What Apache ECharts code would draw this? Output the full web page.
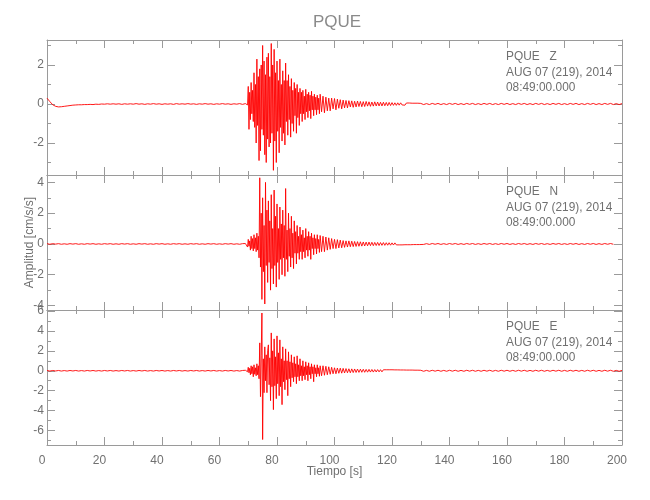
<!DOCTYPE html>
<html>
<head>
<meta charset="utf-8">
<script src="https://cdn.jsdelivr.net/npm/echarts@6/dist/echarts.min.js"></script>
<style>html,body{margin:0;padding:0;background:#fff}#c{width:650px;height:500px}</style>
</head>
<body>
<div id="c"></div>
<script>
// ---- data ----
const title = 'PQUE';
const components = ['Z', 'N', 'E'];
const headerLine2 = 'AUG 07 (219), 2014';
const headerLine3 = '08:49:00.000';
const xTicks = [0, 20, 40, 60, 80, 100, 120, 140, 160, 180, 200];

// pre-event, 1 s samples, t = 0..68
const zPre = [0.3,0.12,-0.04,-0.12,-0.15,-0.14,-0.12,-0.1,-0.08,-0.06,
  -0.05,-0.04,-0.04,-0.03,-0.03,-0.02,-0.03,-0.01,-0.02,0.0,
  -0.01,0.01,-0.01,0.01,-0.01,0.01,-0.02,0.01,-0.01,0.01,
  -0.01,0.02,-0.01,0.01,-0.02,0.01,-0.01,0.02,-0.01,0.01,
  -0.02,0.01,-0.01,0.01,-0.02,0.02,-0.01,0.01,-0.01,0.02,
  -0.01,0.01,-0.02,0.01,-0.01,0.02,-0.01,0.01,-0.02,0.01,
  -0.01,0.02,-0.01,0.01,-0.02,0.01,-0.01,0.02,-0.02];
const nPre = [0.02,-0.02,0.02,-0.01,0.02,-0.02,0.01,-0.02,0.02,-0.01,
  0.02,-0.02,0.01,-0.02,0.02,-0.01,0.02,-0.02,0.01,-0.02,
  0.02,-0.01,0.02,-0.02,0.01,-0.02,0.02,-0.01,0.02,-0.02,
  0.01,-0.02,0.02,-0.01,0.02,-0.02,0.01,-0.02,0.02,-0.01,
  0.02,-0.02,0.01,-0.02,0.02,-0.01,0.02,-0.02,0.01,-0.02,
  0.02,-0.01,0.02,-0.02,0.01,-0.02,0.02,-0.01,0.02,-0.02,
  0.01,-0.02,0.02,-0.01,0.02,-0.02,0.01,-0.02,0.02];
const ePre = [0.03,-0.03,0.03,-0.02,0.03,-0.03,0.02,-0.03,0.03,-0.02,
  0.03,-0.03,0.02,-0.03,0.03,-0.02,0.03,-0.03,0.02,-0.03,
  0.03,-0.02,0.03,-0.03,0.02,-0.03,0.03,-0.02,0.03,-0.03,
  0.02,-0.03,0.03,-0.02,0.03,-0.03,0.02,-0.03,0.03,-0.02,
  0.03,-0.03,0.02,-0.03,0.03,-0.02,0.03,-0.03,0.02,-0.03,
  0.03,-0.02,0.03,-0.03,0.02,-0.03,0.03,-0.02,0.03,-0.03,
  0.02,-0.03,0.03,-0.02,0.03,-0.03,0.02,-0.03,0.03];

// strong motion, 0.25 s samples, t = 69.00..94.75
const zStrong = [0.02,-0.03,0.03,-0.05,0.9,-1.3,0.6,-0.8,
  1.1,-0.5,0.7,-0.9,1.6,-1.2,1.0,-2.0,
  2.3,-1.1,1.4,-2.9,1.8,-2.4,2.0,-1.3,
  3.0,-1.6,2.2,-2.6,1.5,-3.0,2.4,-1.8,
  2.6,-2.2,1.4,-2.0,3.1,-1.5,2.0,-3.4,
  2.8,-1.9,1.6,-3.0,2.2,-1.4,1.2,-2.5,
  2.3,-1.2,1.0,-1.9,1.7,-1.5,1.2,-2.1,
  2.1,-0.9,1.2,-1.6,1.5,-0.8,0.9,-1.7,
  1.3,-1.0,0.7,-1.4,1.1,-0.6,0.8,-1.5,
  1.0,-0.7,0.6,-1.1,0.8,-0.5,0.6,-0.9,
  0.7,-0.5,0.4,-0.8,0.75,-0.4,0.5,-0.7,
  0.6,-0.35,0.45,-0.75,0.65,-0.3,0.4,-0.6,
  0.5,-0.3,0.35,-0.55,0.45,-0.3,0.3,-0.5];
const nStrong = [0.03,-0.05,0.1,-0.2,0.3,-0.15,0.2,-0.4,
  0.5,-0.3,0.35,-0.45,0.6,-0.3,0.4,-0.5,
  0.7,-0.4,0.5,-0.9,4.3,-1.5,2.0,-3.6,
  3.0,-1.8,1.2,-3.9,4.0,-1.4,2.2,-2.5,
  2.8,-1.2,1.5,-3.0,3.2,-1.6,1.0,-2.6,
  3.5,-1.4,1.8,-2.8,2.6,-1.2,1.0,-2.3,
  2.4,-1.0,1.3,-2.0,2.2,-0.9,1.2,-2.1,
  3.6,-1.0,0.9,-1.8,2.0,-0.8,1.0,-1.5,
  1.8,-0.9,0.7,-1.6,1.5,-0.6,0.8,-1.3,
  1.2,-0.6,0.5,-1.0,1.1,-0.5,0.6,-1.0,
  0.9,-0.5,0.4,-0.9,1.0,-0.4,0.5,-0.8,
  0.8,-0.4,0.5,-1.0,0.7,-0.3,0.4,-0.7,
  0.6,-0.3,0.35,-0.65,0.6,-0.3,0.3,-0.55];
const eStrong = [0.05,-0.05,0.1,-0.1,0.35,-0.2,0.25,-0.4,
  0.5,-0.3,0.4,-0.6,0.6,-0.35,0.3,-0.5,
  0.7,-0.4,0.5,-0.8,2.8,-2.6,1.5,5.8,
  -6.9,1.2,-2.2,2.4,-1.0,1.6,-2.2,2.0,
  2.6,-1.4,1.3,-3.0,3.8,-1.6,2.0,-3.9,
  3.2,-1.5,1.4,-2.8,3.5,-1.3,1.8,-2.5,
  3.1,-1.6,1.2,-3.4,2.4,-1.1,1.0,-1.9,
  2.2,-0.9,1.0,-2.5,1.9,-0.8,0.9,-1.6,
  1.6,-0.7,0.8,-1.1,1.4,-0.6,0.7,-1.3,
  1.5,-0.6,0.6,-1.0,1.2,-0.5,0.5,-1.0,
  1.0,-0.5,0.4,-0.9,0.9,-0.4,0.5,-1.0,
  0.8,-0.4,0.4,-0.8,0.7,-0.3,0.4,-1.1,
  0.6,-0.3,0.3,-0.6,0.6,-0.3,0.3,-0.55];

// coda, 0.5 s samples, t = 95.0..129.5
const zCoda = [0.5,-0.4,0.4,-0.45,0.35,-0.35,0.3,-0.35,0.3,-0.25,
  0.28,-0.3,0.25,-0.22,0.22,-0.25,0.2,-0.2,0.18,-0.2,
  0.17,-0.15,0.16,-0.17,0.14,-0.15,0.15,-0.13,0.13,-0.14,
  0.12,-0.13,0.13,-0.11,0.11,-0.12,0.1,-0.11,0.11,-0.1,
  0.1,-0.1,0.09,-0.1,0.09,-0.09,0.08,-0.09,0.08,-0.08,
  0.07,-0.07,0.06,-0.07,0.06,-0.06,0.06,-0.05,0.05,-0.06,
  0.05,-0.05,0.05,-0.05,0.04,-0.05,0.04,-0.04,0.04,-0.04];
const nCoda = [0.55,-0.5,0.5,-0.5,0.45,-0.4,0.4,-0.35,0.35,-0.3,
  0.3,-0.3,0.28,-0.26,0.25,-0.25,0.22,-0.22,0.2,-0.2,
  0.2,-0.18,0.18,-0.17,0.16,-0.16,0.15,-0.15,0.14,-0.14,
  0.13,-0.13,0.12,-0.12,0.12,-0.11,0.11,-0.11,0.1,-0.1,
  0.1,-0.1,0.09,-0.09,0.09,-0.09,0.08,-0.08,0.08,-0.08,
  0.07,-0.07,0.07,-0.06,0.06,-0.06,0.06,-0.06,0.05,-0.05,
  0.05,-0.05,0.05,-0.05,0.05,-0.04,0.04,-0.04,0.04,-0.04];
const eCoda = [0.5,-0.5,0.5,-0.45,0.45,-0.4,0.4,-0.35,0.35,-0.3,
  0.3,-0.3,0.28,-0.25,0.26,-0.24,0.24,-0.22,0.22,-0.2,
  0.2,-0.2,0.19,-0.18,0.18,-0.17,0.17,-0.16,0.16,-0.15,
  0.15,-0.15,0.14,-0.14,0.14,-0.13,0.13,-0.13,0.12,-0.12,
  0.12,-0.11,0.11,-0.11,0.1,-0.1,0.1,-0.1,0.1,-0.1,
  0.1,-0.09,0.09,-0.09,0.09,-0.08,0.08,-0.08,0.08,-0.08,
  0.07,-0.07,0.07,-0.07,0.07,-0.07,0.06,-0.06,0.06,-0.06];

// late noise, 1 s samples, t = 130..end
const zTail = [0.03,-0.03,0.02,-0.03,0.03,-0.02,0.03,-0.03,0.02,-0.03,
  0.03,-0.02,0.03,-0.03,0.02,-0.03,0.03,-0.02,0.03,-0.03,
  0.02,-0.03,0.03,-0.02,0.03,-0.03,0.02,-0.03,0.03,-0.02,
  0.03,-0.03,0.02,-0.03,0.03,-0.02,0.03,-0.03,0.02,-0.03,
  0.03,-0.02,0.03,-0.03,0.02,-0.03,0.03,-0.02,0.03,-0.03,
  0.02,-0.03,0.03,-0.02,0.03,-0.03,0.02,-0.03,0.03,-0.02,
  0.03,-0.03,0.02,-0.03,0.03,-0.02,0.03,-0.03,0.02,-0.03,0.02];
const nTail = [0.03,-0.03,0.02,-0.03,0.03,-0.02,0.03,-0.03,0.02,-0.03,
  0.03,-0.02,0.03,-0.03,0.02,-0.03,0.03,-0.02,0.03,-0.03,
  0.02,-0.03,0.03,-0.02,0.03,-0.03,0.02,-0.03,0.03,-0.02,
  0.03,-0.03,0.02,-0.03,0.03,-0.02,0.03,-0.03,0.02,-0.03,
  0.03,-0.02,0.03,-0.03,0.02,-0.03,0.03,-0.02,0.03,-0.03,
  0.02,-0.03,0.03,-0.02,0.03,-0.03,0.02,-0.03,0.03,-0.02,
  0.03,-0.03,0.02,-0.03,0.03,-0.02,0.03,-0.02];
const eTail = [0.05,-0.05,0.04,-0.05,0.05,-0.04,0.05,-0.05,0.04,-0.05,
  0.05,-0.04,0.05,-0.05,0.04,-0.05,0.05,-0.04,0.05,-0.05,
  0.04,-0.05,0.05,-0.04,0.05,-0.05,0.04,-0.05,0.05,-0.04,
  0.05,-0.05,0.04,-0.05,0.05,-0.04,0.05,-0.05,0.04,-0.05,
  0.05,-0.04,0.05,-0.05,0.04,-0.05,0.05,-0.04,0.05,-0.05,
  0.04,-0.05,0.05,-0.04,0.05,-0.05,0.04,-0.05,0.05,-0.04,
  0.05,-0.05,0.04,-0.05,0.05,-0.04,0.05,-0.05,0.04,-0.05,0.04];

// axis ranges and tick labels per panel
const yRanges = [[-3.64, 3.28], [-4.29, 4.48], [-7.45, 6.1]];
const yMajor = [[-2, 0, 2], [-4, -2, 0, 2, 4], [-6, -4, -2, 0, 2, 4, 6]];
const yMinor = [[-3, -1, 1, 3], [-3, -1, 1, 3], [-7, -5, -3, -1, 1, 3, 5]];

// ---- build ----
function buildSeries(pre, strong, coda, tail) {
  const out = [];
  pre.forEach((v, i) => out.push([i, v]));
  strong.forEach((v, i) => out.push([69 + 0.25 * i, v]));
  coda.forEach((v, i) => out.push([95 + 0.5 * i, v]));
  tail.forEach((v, i) => out.push([130 + i, v]));
  return out;
}
const traces = [
  buildSeries(zPre, zStrong, zCoda, zTail),
  buildSeries(nPre, nStrong, nCoda, nTail),
  buildSeries(ePre, eStrong, eCoda, eTail)
];

const FONT = "'Liberation Sans', Arial, sans-serif";
const AX = '#9a9a9a';
const TXT = '#707070';
const tops = [40, 175, 310];
const H = 135;

const grids = [], xAxes = [], yAxes = [], series = [], graphics = [];
for (let p = 0; p < 3; p++) {
  grids.push({ left: 47, right: 28, top: tops[p], height: H, containLabel: false });
  ['bottom', 'top'].forEach(pos => {
    const main = (p === 2 && pos === 'bottom');
    xAxes.push({
      gridIndex: p, type: 'value', min: 0, max: 200, interval: 20, position: pos,
      axisLine: { show: true, onZero: false, lineStyle: { color: AX, width: 1 } },
      axisTick: { show: true, inside: true, length: 8, lineStyle: { color: AX } },
      minorTick: { show: true, splitNumber: 2, length: 4, lineStyle: { color: AX } },
      splitLine: { show: false },
      axisLabel: {
        show: main, margin: 10, color: TXT, fontSize: 12, fontFamily: FONT,
        padding: [0, 10, 0, 0], customValues: xTicks
      },
      name: main ? 'Tiempo [s]' : '',
      nameLocation: 'middle', nameGap: 21, nameMoveOverlap: false,
      nameTextStyle: { color: TXT, fontSize: 12, fontFamily: FONT }
    });
  });
  ['left', 'right'].forEach(pos => {
    const main = (p === 1 && pos === 'left');
    yAxes.push({
      gridIndex: p, type: 'value', min: yRanges[p][0], max: yRanges[p][1], position: pos,
      axisLine: { show: true, onZero: false, lineStyle: { color: AX, width: 1 } },
      axisTick: { show: true, inside: true, length: 8, lineStyle: { color: AX }, customValues: yMajor[p] },
      splitLine: { show: false },
      axisLabel: {
        show: pos === 'left', margin: 3, color: TXT, fontSize: 12, fontFamily: FONT,
        customValues: yMajor[p]
      },
      name: main ? 'Amplitud [cm/s/s]' : '',
      nameLocation: 'middle', nameGap: 11, nameRotate: 90, nameMoveOverlap: false,
      nameTextStyle: { color: TXT, fontSize: 12, fontFamily: FONT }
    });
    yAxes.push({
      gridIndex: p, type: 'value', min: yRanges[p][0], max: yRanges[p][1], position: pos,
      axisLine: { show: false, onZero: false },
      axisTick: { show: true, inside: true, length: 4, lineStyle: { color: AX }, customValues: yMinor[p] },
      splitLine: { show: false },
      axisLabel: { show: false }
    });
  });
  series.push({
    type: 'line', xAxisIndex: 2 * p, yAxisIndex: 4 * p, data: traces[p],
    showSymbol: false, symbol: 'none', sampling: null, clip: true,
    lineStyle: { color: '#ff0000', width: 0.9 }, animation: false
  });
  [title + '   ' + components[p], headerLine2, headerLine3].forEach((t, k) => {
    graphics.push({
      type: 'text', x: 506, y: tops[p] + 17 + 15.5 * k, scaleX: 0.95,
      style: { text: t, fill: TXT, font: '12.5px ' + FONT, textVerticalAlign: 'middle' }
    });
  });
}
graphics.push({
  type: 'text', x: 337, y: 22,
  style: { text: title, fill: '#8a8a8a', font: '17px ' + FONT, textAlign: 'center', textVerticalAlign: 'middle' }
});

const chart = echarts.init(document.getElementById('c'), null, { renderer: 'canvas' });
chart.setOption({
  backgroundColor: '#fff',
  animation: false,
  grid: grids, xAxis: xAxes, yAxis: yAxes, series: series, graphic: graphics
});
</script>
</body>
</html>
